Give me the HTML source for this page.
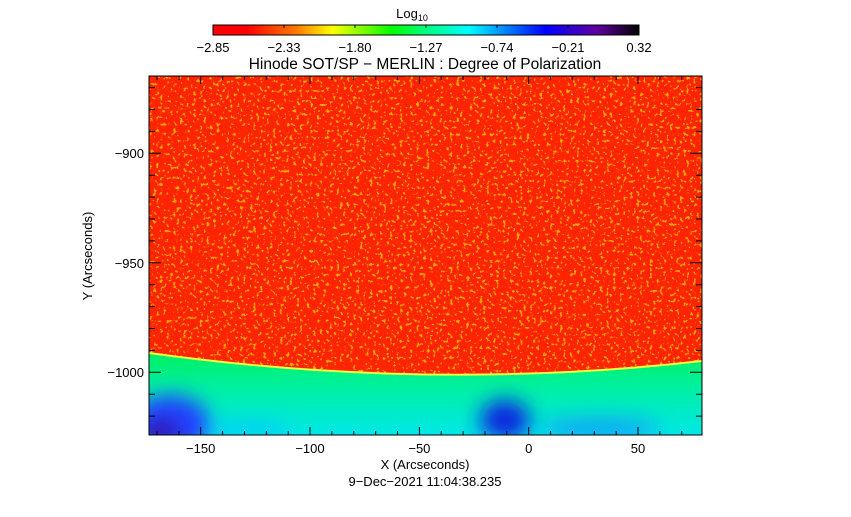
<!DOCTYPE html>
<html><head><meta charset="utf-8"><style>
body{margin:0;background:#fff;}
text{font-family:"Liberation Sans",sans-serif;fill:#000;}
</style></head><body>
<svg width="851" height="512" viewBox="0 0 851 512" xmlns="http://www.w3.org/2000/svg">
<defs>
<linearGradient id="cb" x1="0" x2="1" y1="0" y2="0">
<stop offset="0" stop-color="#ff0000"/>
<stop offset="0.08" stop-color="#ff0000"/>
<stop offset="0.2" stop-color="#ff8000"/>
<stop offset="0.28" stop-color="#ffff00"/>
<stop offset="0.42" stop-color="#00ff00"/>
<stop offset="0.5" stop-color="#00ff80"/>
<stop offset="0.6" stop-color="#00ffff"/>
<stop offset="0.78" stop-color="#0000ff"/>
<stop offset="0.9" stop-color="#6000a0"/>
<stop offset="1" stop-color="#000000"/>
</linearGradient>
<linearGradient id="low" x1="0" x2="0" y1="0" y2="1">
<stop offset="0" stop-color="#00f060"/>
<stop offset="0.4" stop-color="#00f0a0"/>
<stop offset="1" stop-color="#00e8e8"/>
</linearGradient>
<filter id="sp" x="0" y="0" width="100%" height="100%">
<feTurbulence type="fractalNoise" baseFrequency="0.3" numOctaves="2" seed="3"/>
<feColorMatrix type="matrix" values="0 0 0 0 1  0 0 0 0 0.6  0 0 0 0 0  10 0 0 0 -6"/>
</filter>
<filter id="bl" x="-50%" y="-50%" width="200%" height="200%"><feGaussianBlur stdDeviation="10"/></filter>
<clipPath id="pc"><rect x="149" y="76" width="553" height="359"/></clipPath>
</defs>
<text x="412" y="18" font-size="13" text-anchor="middle">Log<tspan font-size="9" dy="3">10</tspan></text>
<rect x="213" y="25" width="426" height="10" fill="url(#cb)" stroke="#000" stroke-width="1"/>
<g stroke="#000">
<line x1="284" y1="25" x2="284" y2="28"/><line x1="355" y1="25" x2="355" y2="28"/><line x1="426" y1="25" x2="426" y2="28"/><line x1="497" y1="25" x2="497" y2="28"/><line x1="568" y1="25" x2="568" y2="28"/>
</g>
<g font-size="13" text-anchor="middle">
<text x="213" y="52">−2.85</text><text x="284" y="52">−2.33</text><text x="355" y="52">−1.80</text><text x="426" y="52">−1.27</text><text x="497" y="52">−0.74</text><text x="568" y="52">−0.21</text><text x="639" y="52">0.32</text>
</g>
<text x="425" y="69" font-size="15.5" text-anchor="middle">Hinode SOT/SP − MERLIN : Degree of Polarization</text>
<g clip-path="url(#pc)">
<rect x="149" y="76" width="553" height="359" fill="#ff2400"/>
<rect x="149" y="76" width="553" height="300" filter="url(#sp)" opacity="0.8"/>
<path d="M149,353 Q430,392 702,361 L702,435 L149,435 Z" fill="url(#low)"/>
<path d="M149,353 Q430,392 702,361" fill="none" stroke="#e8ff40" stroke-width="2"/>
<g filter="url(#bl)">
<ellipse cx="170" cy="425" rx="40" ry="30" fill="#2040ff"/>
<ellipse cx="160" cy="432" rx="20" ry="12" fill="#3000a0"/>
<ellipse cx="505" cy="420" rx="25" ry="20" fill="#1020e0"/>
<ellipse cx="600" cy="428" rx="60" ry="10" fill="#2080ff" opacity="0.7"/>
<ellipse cx="250" cy="430" rx="40" ry="10" fill="#00c0ff" opacity="0.6"/>
</g>
</g>
<rect x="149" y="76" width="553" height="359" fill="none" stroke="#000" stroke-width="1"/>
<g stroke="#000" stroke-width="1">
<path d="M200.7,435v-8M310,435v-8M419.4,435v-8M528.7,435v-8M638,435v-8M200.7,76v8M310,76v8M419.4,76v8M528.7,76v8M638,76v8"/>
<path d="M157,435v-4M179,435v-4M222.6,435v-4M244.5,435v-4M266.4,435v-4M288.2,435v-4M331.9,435v-4M353.8,435v-4M375.7,435v-4M397.5,435v-4M441.2,435v-4M463.1,435v-4M485,435v-4M506.8,435v-4M550.6,435v-4M572.4,435v-4M594.3,435v-4M616.2,435v-4M659.9,435v-4M681.8,435v-4"/>
<path d="M157,76v4M179,76v4M222.6,76v4M244.5,76v4M266.4,76v4M288.2,76v4M331.9,76v4M353.8,76v4M375.7,76v4M397.5,76v4M441.2,76v4M463.1,76v4M485,76v4M506.8,76v4M550.6,76v4M572.4,76v4M594.3,76v4M616.2,76v4M659.9,76v4M681.8,76v4"/>
<path d="M149,153.3h12M149,262.8h12M149,372.3h12M702,153.3h-12M702,262.8h-12M702,372.3h-12"/>
<path d="M149,87.6h6M149,109.5h6M149,131.4h6M149,175.2h6M149,197.1h6M149,219h6M149,240.9h6M149,284.7h6M149,306.6h6M149,328.5h6M149,350.4h6M149,394.2h6M149,416.1h6"/>
<path d="M702,87.6h-6M702,109.5h-6M702,131.4h-6M702,175.2h-6M702,197.1h-6M702,219h-6M702,240.9h-6M702,284.7h-6M702,306.6h-6M702,328.5h-6M702,350.4h-6M702,394.2h-6M702,416.1h-6"/>
</g>
<g font-size="13" text-anchor="middle">
<text x="200.7" y="453">−150</text><text x="310" y="453">−100</text><text x="419.4" y="453">−50</text><text x="528.7" y="453">0</text><text x="638" y="453">50</text>
</g>
<g font-size="13" text-anchor="end">
<text x="144" y="158">−900</text><text x="144" y="268">−950</text><text x="144" y="377">−1000</text>
</g>
<text x="425" y="469" font-size="13" text-anchor="middle">X (Arcseconds)</text>
<text x="425" y="486" font-size="13" text-anchor="middle">9−Dec−2021 11:04:38.235</text>
<text transform="translate(92,256) rotate(-90)" font-size="13" text-anchor="middle">Y (Arcseconds)</text>
</svg>
</body></html>
